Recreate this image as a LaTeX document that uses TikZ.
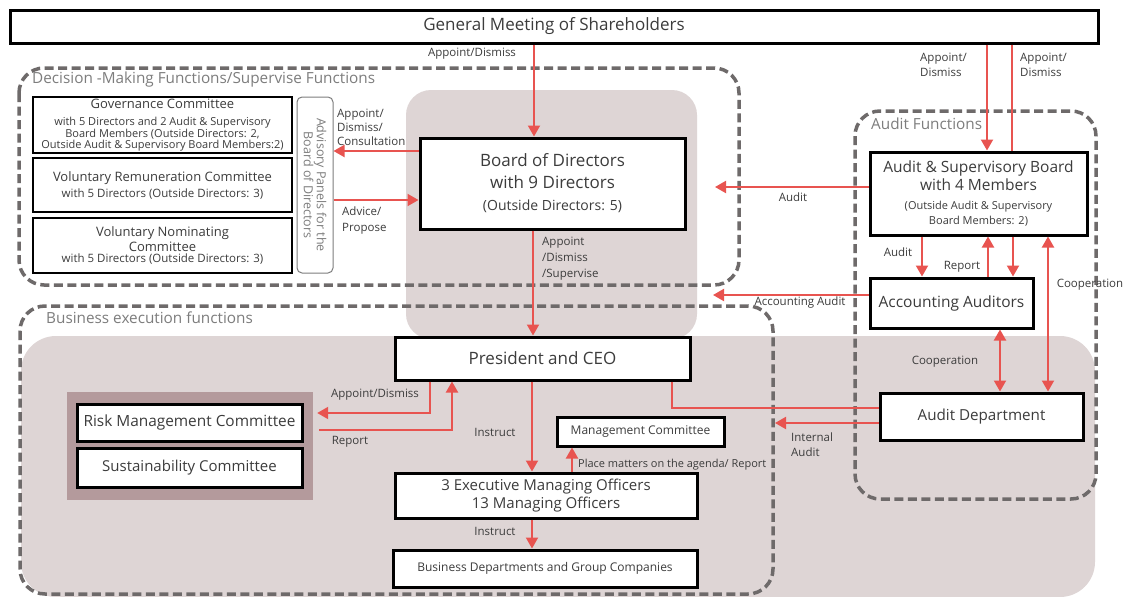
\documentclass[tikz,border=0pt]{standalone}
\usepackage{fontspec}
\setmainfont{Open Sans}
\usetikzlibrary{arrows.meta, positioning}

\definecolor{arrowred}{RGB}{232,84,80}
\definecolor{zonegray}{RGB}{110,106,106}
\definecolor{shadegray}{RGB}{222,213,213}
\definecolor{panelmauve}{RGB}{180,154,156}
\definecolor{textgray}{RGB}{60,60,60}
\definecolor{zonetext}{RGB}{125,125,125}

\newcommand{\fsz}[2]{\fontsize{#1}{#2}\selectfont}

\tikzset{
  orgbox/.style={draw=black, line width=3pt, fill=white, text=textgray, align=center, inner sep=0pt},
  cmtbox/.style={draw=black, line width=1.8pt, fill=white, text=textgray, align=center, inner sep=0pt},
  zone/.style={draw=zonegray, line width=3.5pt, dash pattern=on 9pt off 4.5pt, rounded corners=25pt},
  zonelbl/.style={text=zonetext, inner sep=0pt, anchor=west, font=\fsz{15.3}{17}},
  redarrow/.style={draw=arrowred, line width=2pt, -{Triangle[length=11pt,width=12pt]}},
  redboth/.style={draw=arrowred, line width=2pt, {Triangle[length=11pt,width=12pt]}-{Triangle[length=11pt,width=12pt]}},
  lbl/.style={text=textgray, inner sep=0pt, align=left, font=\fsz{11.5}{15}},
}

\begin{document}
\begin{tikzpicture}[x=1pt, y=-1pt]
\useasboundingbox[fill=white] (0,0) rectangle (1128,597);

% shaded areas
\fill[shadegray, rounded corners=35pt] (21,336) rectangle (1095,597);
\fill[shadegray, rounded corners=25pt] (406,90) rectangle (697,339);

% function zones
\draw[zone] (19,68) rectangle (739,285);
\draw[zone] (20,306) rectangle (773,594);
\draw[zone] (855,111) rectangle (1096,499);
\node[zonelbl] (dmlabel) at (32,80) {Decision -Making Functions/Supervise Functions};
\node[zonelbl] (belabel) at (46,318) {Business execution functions};
\node[zonelbl] (aflabel) at (871,124) {Audit Functions};

% top
\node[orgbox, minimum width=1088pt, minimum height=33pt, font=\fsz{17}{20}] (gm) at (554,26.5) {General Meeting of Shareholders};

% advisory panels
\node[cmtbox, minimum width=259pt, minimum height=56pt, font=\fsz{11}{10}] (gov) at (162.5,125)
  {{\fsz{13}{15}Governance Committee}\\[7pt]with 5 Directors and 2 Audit \& Supervisory\\Board Members (Outside Directors: 2,\\Outside Audit \& Supervisory Board Members:2)};
\node[cmtbox, minimum width=259pt, minimum height=54pt, font=\fsz{13}{16}] (remun) at (162.5,185)
  {Voluntary Remuneration Committee\\{\fsz{11.5}{16}with 5 Directors (Outside Directors: 3)}};
\node[cmtbox, minimum width=259pt, minimum height=55pt, font=\fsz{13}{15}] (nomin) at (162.5,245.5)
  {Voluntary Nominating\\Committee\\[-4pt]{\fsz{11.5}{15}with 5 Directors (Outside Directors: 3)}};
\node[draw=zonetext, line width=1pt, rounded corners=5pt, fill=white, rotate=-90, minimum width=176pt, minimum height=36pt,
  inner sep=0pt, align=center, text=zonetext, font=\fsz{12.5}{13}] (advisory) at (315,185)
  {Advisory Panels for the\\Board of Directors};

% board and audit side
\node[orgbox, minimum width=265pt, minimum height=91pt, font=\fsz{17}{22}] (board) at (552.5,183.5)
  {Board of Directors\\with 9 Directors\\{\fsz{14}{22}(Outside Directors: 5)}};
\node[orgbox, minimum width=217pt, minimum height=83pt, font=\fsz{15.5}{18}] (asb) at (978.5,193.5)
  {Audit \& Supervisory Board\\with 4 Members\\[1pt]{\fsz{11}{15}(Outside Audit \& Supervisory}\\[-3pt]{\fsz{11}{15}Board Members: 2)}};
\node[orgbox, minimum width=163pt, minimum height=50pt, font=\fsz{15.5}{18}] (acc) at (951.5,303) {Accounting Auditors};
\node[orgbox, minimum width=203pt, minimum height=47pt, font=\fsz{15.2}{18}] (auditdept) at (981.5,416.5) {Audit Department};

% business execution
\node[orgbox, minimum width=295pt, minimum height=43pt, font=\fsz{17}{20}] (pres) at (542.5,358.5) {President and CEO};
\node[fill=panelmauve, minimum width=246pt, minimum height=108pt, inner sep=0pt] (riskpanel) at (190,446) {};
\node[orgbox, minimum width=225pt, minimum height=37pt, font=\fsz{15.4}{18}] (risk) at (189.5,422.5) {Risk Management Committee};
\node[orgbox, minimum width=225pt, minimum height=39pt, font=\fsz{15}{18}] (sust) at (189.5,467.5) {Sustainability Committee};
\node[orgbox, minimum width=167pt, minimum height=29pt, font=\fsz{12}{14}] (mgmt) at (640.5,431.5) {Management Committee};
\node[orgbox, minimum width=302pt, minimum height=45pt, font=\fsz{15}{18}] (exec) at (546,495.5)
  {3 Executive Managing Officers\\13 Managing Officers};
\node[orgbox, minimum width=304pt, minimum height=37pt, font=\fsz{12}{14}] (bizdept) at (545,568.5)
  {Business Departments and Group Companies};

% free ends
\coordinate (auditTip) at (715,187);
\coordinate (accTip) at (713,295);
\coordinate (iaTip) at (775,423);

% connectors
\draw[redarrow] (gm.south -| 534,0) -- (board.north -| 534,0);
\draw[redarrow] (board.west |- 0,151) -- (advisory.north |- 0,151);
\draw[redarrow] (advisory.north |- 0,200) -- (board.west |- 0,200);
\draw[redarrow] (board.south -| 533,0) -- (pres.north -| 533,0);
\draw[redarrow] (gm.south -| 987,0) -- (asb.north -| 987,0);
\draw[arrowred, line width=2pt] (gm.south -| 1012,0) -- (asb.north -| 1012,0);
\draw[redarrow] (asb.south -| 1013,0) -- (acc.north -| 1013,0);
\draw[redarrow] (asb.west |- 0,187) -- (auditTip);
\draw[redarrow] (asb.south -| 922,0) -- (acc.north -| 922,0);
\draw[redarrow] (acc.north -| 988,0) -- (asb.south -| 988,0);
\draw[redboth] (asb.south -| 1048,0) -- (auditdept.north -| 1048,0);
\draw[redarrow] (acc.west |- 0,295) -- (accTip);
\draw[redboth] (acc.south -| 1000,0) -- (auditdept.north -| 1000,0);
\draw[redarrow] (auditdept.west |- 0,423) -- (iaTip);
\draw[arrowred, line width=1.5pt] (pres.south -| 672,0) |- (auditdept.west |- 0,408);
\draw[redarrow, shorten >=4pt] (pres.south -| 430,0) |- (riskpanel.east |- 0,413);
\draw[redarrow, shorten <=6pt] (riskpanel.east |- 0,430) -| (pres.south -| 452,0);
\draw[redarrow] (pres.south -| 532,0) -- (exec.north -| 532,0);
\draw[redarrow] (exec.north -| 572,0) -- (mgmt.south -| 572,0);
\draw[redarrow] (exec.south -| 532,0) -- (bizdept.north -| 532,0);

% connector labels
\node[lbl] (lblgm) at (472,54) {Appoint/Dismiss};
\node[lbl, anchor=west, font=\fsz{11.5}{14}] (lblconsult) at (337,127) {Appoint/\\Dismiss/\\Consultation};
\node[lbl, anchor=west, font=\fsz{11.5}{16}] (lbladvice) at (342,221) {Advice/\\Propose};
\node[lbl, anchor=west, font=\fsz{11.5}{16}] (lblsupervise) at (542,259) {Appoint\\/Dismiss\\/Supervise};
\node[lbl, anchor=west] (lblasbgm) at (920,65) {Appoint/\\Dismiss};
\node[lbl, anchor=west] (lblaccgm) at (1020,65) {Appoint/\\Dismiss};
\node[lbl] (lblaudit) at (793,197) {Audit};
\node[lbl] (lblauditacc) at (898,252) {Audit};
\node[lbl] (lblreport) at (962,267) {Report};
\node[lbl] (lblcoopr) at (1090,285) {Cooperation};
\node[lbl] (lblaccaudit) at (800,303) {Accounting Audit};
\node[lbl] (lblcoopm) at (945,362) {Cooperation};
\node[lbl, anchor=west] (lblinternal) at (791,445) {Internal\\Audit};
\node[lbl] (lblriskapp) at (375,395) {Appoint/Dismiss};
\node[lbl] (lblriskrep) at (350,442) {Report};
\node[lbl] (lblinstruct) at (495,432) {Instruct};
\node[lbl, anchor=west, font=\fsz{11}{13}] (lblagenda) at (578,465) {Place matters on the agenda/ Report};
\node[lbl] (lblinstructb) at (495,531) {Instruct};
\end{tikzpicture}
\end{document}
